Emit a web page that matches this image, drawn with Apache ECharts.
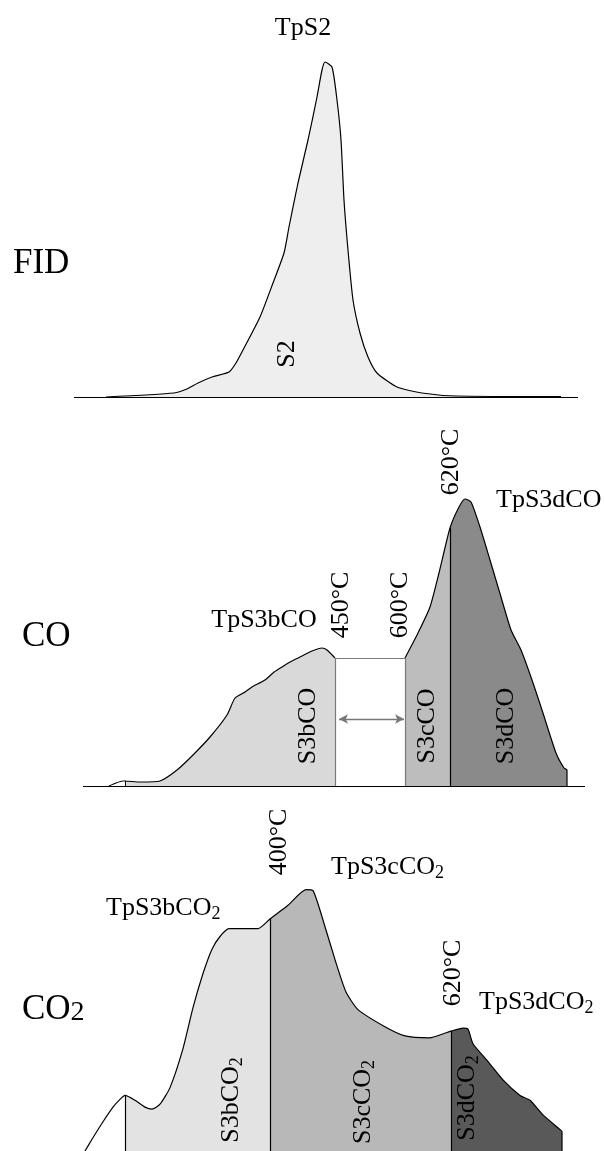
<!DOCTYPE html>
<html>
<head>
<meta charset="utf-8">
<script src="https://cdn.jsdelivr.net/npm/echarts@6/dist/echarts.min.js"></script>
<style>
html,body{margin:0;padding:0;background:#fff;}
#chart{width:604px;height:1151px;}
</style>
</head>
<body>
<div id="chart"></div>
<script>
// ---------- DATA (x: arbitrary temperature/time units, v: signal above baseline) ----------
// FID panel
const fidX = [106,174,187,198,212,229,236,243,260,273,284,289,298,308,317,322,325,332,337,341,344,348,353,360,368,377,397,422,456,561];
const fidV = [0,4,8,14,20,25,34,47,80,114,144,170,214,257,300,327,335,330,297,257,197,147,97,64,40,24,10,4,1,0.5];

// CO panel
const coPreX = [109,116,123,125];
const coPreV = [0,3,5,5];
const coS3bX = [125,140,160,177,193,210,227,235,245,252,265,273,282,290,300,312,322,327,335];
const coS3bV = [5,4,5,16,31,49,71,88,94,99,106,113,119,124,129,135,138,136,128];
const coS3cX = [405,418,430,439,450];
const coS3cV = [128,153,179,213,258];
const coS3dX = [450,459,465,471,480,490,501,511,521,532,542,556,564,567,567];
const coS3dV = [258,279,287,284,259,226,189,156,136,106,76,33,18,16,0];

// CO2 panel
const co2PreX = [85,92,103,113,120,125];
const co2PreV = [0,12,30,45,53,57];
const co2S3bX = [125,135,145,152,160,170,183,193,203,212,220,229,241,258,270];
const co2S3bV = [57,52,45,43,48,65,105,147,182,207,220,228,228,228,238];
const co2S3cX = [270,288,306,313,325,336,346,358,384,405,429,451];
const co2S3cV = [238,252,268,267,230,193,163,145,128,118,116,123];
const co2S3dX = [451,463,468,473,487,503,520,530,543,560,562,562];
const co2S3dV = [123,126,125,110,93,73,57,52,37,22,20,0];

// axis extents & boundaries
const fidAxis = [74,578];
const coAxis = [83,585];
const coGap = [335,405];       // 450°C .. 600°C window
const coGapTop = 128;
const arrowV = 67;

// ---------- helpers ----------
const pairs = (xs, vs) => xs.map((x,i)=>[x, vs[i]]);
const SERIF = '"Liberation Serif","Times New Roman",serif';
const SM = 0.2;

function fill(idx, xs, vs, color){
  return {type:'line', xAxisIndex:idx, yAxisIndex:idx, data:pairs(xs,vs), symbol:'none', smooth:SM,
    lineStyle:{width:0, opacity:0}, areaStyle:{color:color, opacity:1}, z:1, silent:true};
}
function outline(idx, xs, vs, marks){
  const s = {type:'line', xAxisIndex:idx, yAxisIndex:idx, data:pairs(xs,vs), symbol:'none', smooth:SM,
    lineStyle:{color:'#000', width:1.2}, z:3, silent:true};
  if (marks) s.markLine = {symbol:'none', silent:true, animation:false, label:{show:false},
    lineStyle:{color:'#000', width:1.2, type:'solid'}, data:marks};
  return s;
}
const seg = (x1,y1,x2,y2,style) => {
  const a = {coord:[x1,y1]}; const b = {coord:[x2,y2]};
  if (style) a.lineStyle = style;
  return [a,b];
};
const last = a => a[a.length-1];

function rich(x, y, text, size, opts){
  opts = opts || {};
  return {type:'text', x:x, y:y, rotation: opts.rot ? Math.PI/2 : 0, z:10,
    style:{text:text, fill:'#000', font: size+'px '+SERIF, fontFamily:SERIF, fontSize:size,
      align: opts.align || 'center', verticalAlign:'middle',
      rich:{
        a:{fontFamily:SERIF, fontSize:size, fill:'#000'},
        s:{fontFamily:SERIF, fontSize:Math.round(size*0.68), fill:'#000', padding:[12,0,0,0]},
        p:{fontFamily:SERIF, fontSize:Math.round(size*0.8), fill:'#000', padding:[6,0,0,0]}
      }}};
}

const gray = {color:'#7a7a7a', width:1.2, type:'solid'};

const option = {
  animation:false,
  backgroundColor:'#fff',
  grid:[
    {left:0, width:604, top:37, height:360},
    {left:0, width:604, top:426, height:360},
    {left:0, width:604, top:800, height:360}
  ],
  xAxis:[0,1,2].map(i=>({type:'value', gridIndex:i, min:0, max:604, show:false})),
  yAxis:[0,1,2].map(i=>({type:'value', gridIndex:i, min:0, max:360, show:false})),
  series:[
    // FID
    fill(0, fidX, fidV, '#eeeeee'),
    outline(0, fidX, fidV, [ seg(fidAxis[0],0,fidAxis[1],0) ]),
    // CO
    fill(1, coS3bX, coS3bV, '#d9d9d9'),
    fill(1, coS3cX, coS3cV, '#bdbdbd'),
    fill(1, coS3dX, coS3dV, '#8a8a8a'),
    outline(1, coPreX.concat(coS3bX.slice(1)), coPreV.concat(coS3bV.slice(1)), [
      seg(coAxis[0],0,coAxis[1],0),
      seg(coS3bX[0],0,coS3bX[0],coS3bV[0],{color:'#000',width:1}),
      seg(coS3dX[0],0,coS3dX[0],coS3dV[0]),
      seg(coGap[0],0,coGap[0],coGapTop,gray),
      seg(coGap[1],0,coGap[1],coGapTop,gray),
      seg(coGap[0],coGapTop,coGap[1],coGapTop,gray)
    ]),
    outline(1, coS3cX.concat(coS3dX.slice(1)), coS3cV.concat(coS3dV.slice(1))),
    {type:'line', xAxisIndex:1, yAxisIndex:1, data:[], silent:true,
      markLine:{silent:true, animation:false, label:{show:false}, symbol:['arrow','arrow'], symbolSize:[7,9],
        lineStyle:{color:'#777', width:1.3, type:'solid'},
        data:[ seg(coGap[0]+4, arrowV, coGap[1]-1, arrowV) ]}},
    // CO2
    fill(2, co2S3bX, co2S3bV, '#e3e3e3'),
    fill(2, co2S3cX, co2S3cV, '#b8b8b8'),
    fill(2, co2S3dX, co2S3dV, '#595959'),
    outline(2, co2PreX.concat(co2S3bX.slice(1), co2S3cX.slice(1), co2S3dX.slice(1)),
               co2PreV.concat(co2S3bV.slice(1), co2S3cV.slice(1), co2S3dV.slice(1)), [
      seg(co2S3bX[0],0,co2S3bX[0],co2S3bV[0]),
      seg(co2S3cX[0],0,co2S3cX[0],co2S3cV[0]),
      seg(co2S3dX[0],0,co2S3dX[0],co2S3dV[0])
    ])
  ],
  graphic:[
    // panel names
    rich(13, 264, 'FID', 35, {align:'left'}),
    rich(22, 637, 'CO', 35, {align:'left'}),
    rich(22, 1010, '{a|CO}{p|2}', 35, {align:'left'}),
    // FID labels
    rich(303, 28, 'TpS2', 26),
    rich(287, 354, 'S2', 26, {rot:true}),
    // CO labels
    rich(264, 620, 'TpS3bCO', 26),
    rich(341, 605, '450°C', 26, {rot:true}),
    rich(400, 605, '600°C', 26, {rot:true}),
    rich(451, 462, '620°C', 26, {rot:true}),
    rich(496, 500, 'TpS3dCO', 26, {align:'left'}),
    rich(308, 726, 'S3bCO', 26, {rot:true}),
    rich(427, 726, 'S3cCO', 26, {rot:true}),
    rich(506, 726, 'S3dCO', 26, {rot:true}),
    // CO2 labels
    rich(279, 842, '400°C', 26, {rot:true}),
    rich(331, 867, '{a|TpS3cCO}{s|2}', 26, {align:'left'}),
    rich(106, 908, '{a|TpS3bCO}{s|2}', 26, {align:'left'}),
    rich(453, 973, '620°C', 26, {rot:true}),
    rich(479, 1002, '{a|TpS3dCO}{s|2}', 26, {align:'left'}),
    rich(231, 1100, '{a|S3bCO}{s|2}', 26, {rot:true}),
    rich(363, 1102, '{a|S3cCO}{s|2}', 26, {rot:true}),
    rich(467, 1098, '{a|S3dCO}{s|2}', 26, {rot:true})
  ]
};

const chart = echarts.init(document.getElementById('chart'), null, {renderer:'canvas'});
chart.setOption(option);
</script>
</body>
</html>
